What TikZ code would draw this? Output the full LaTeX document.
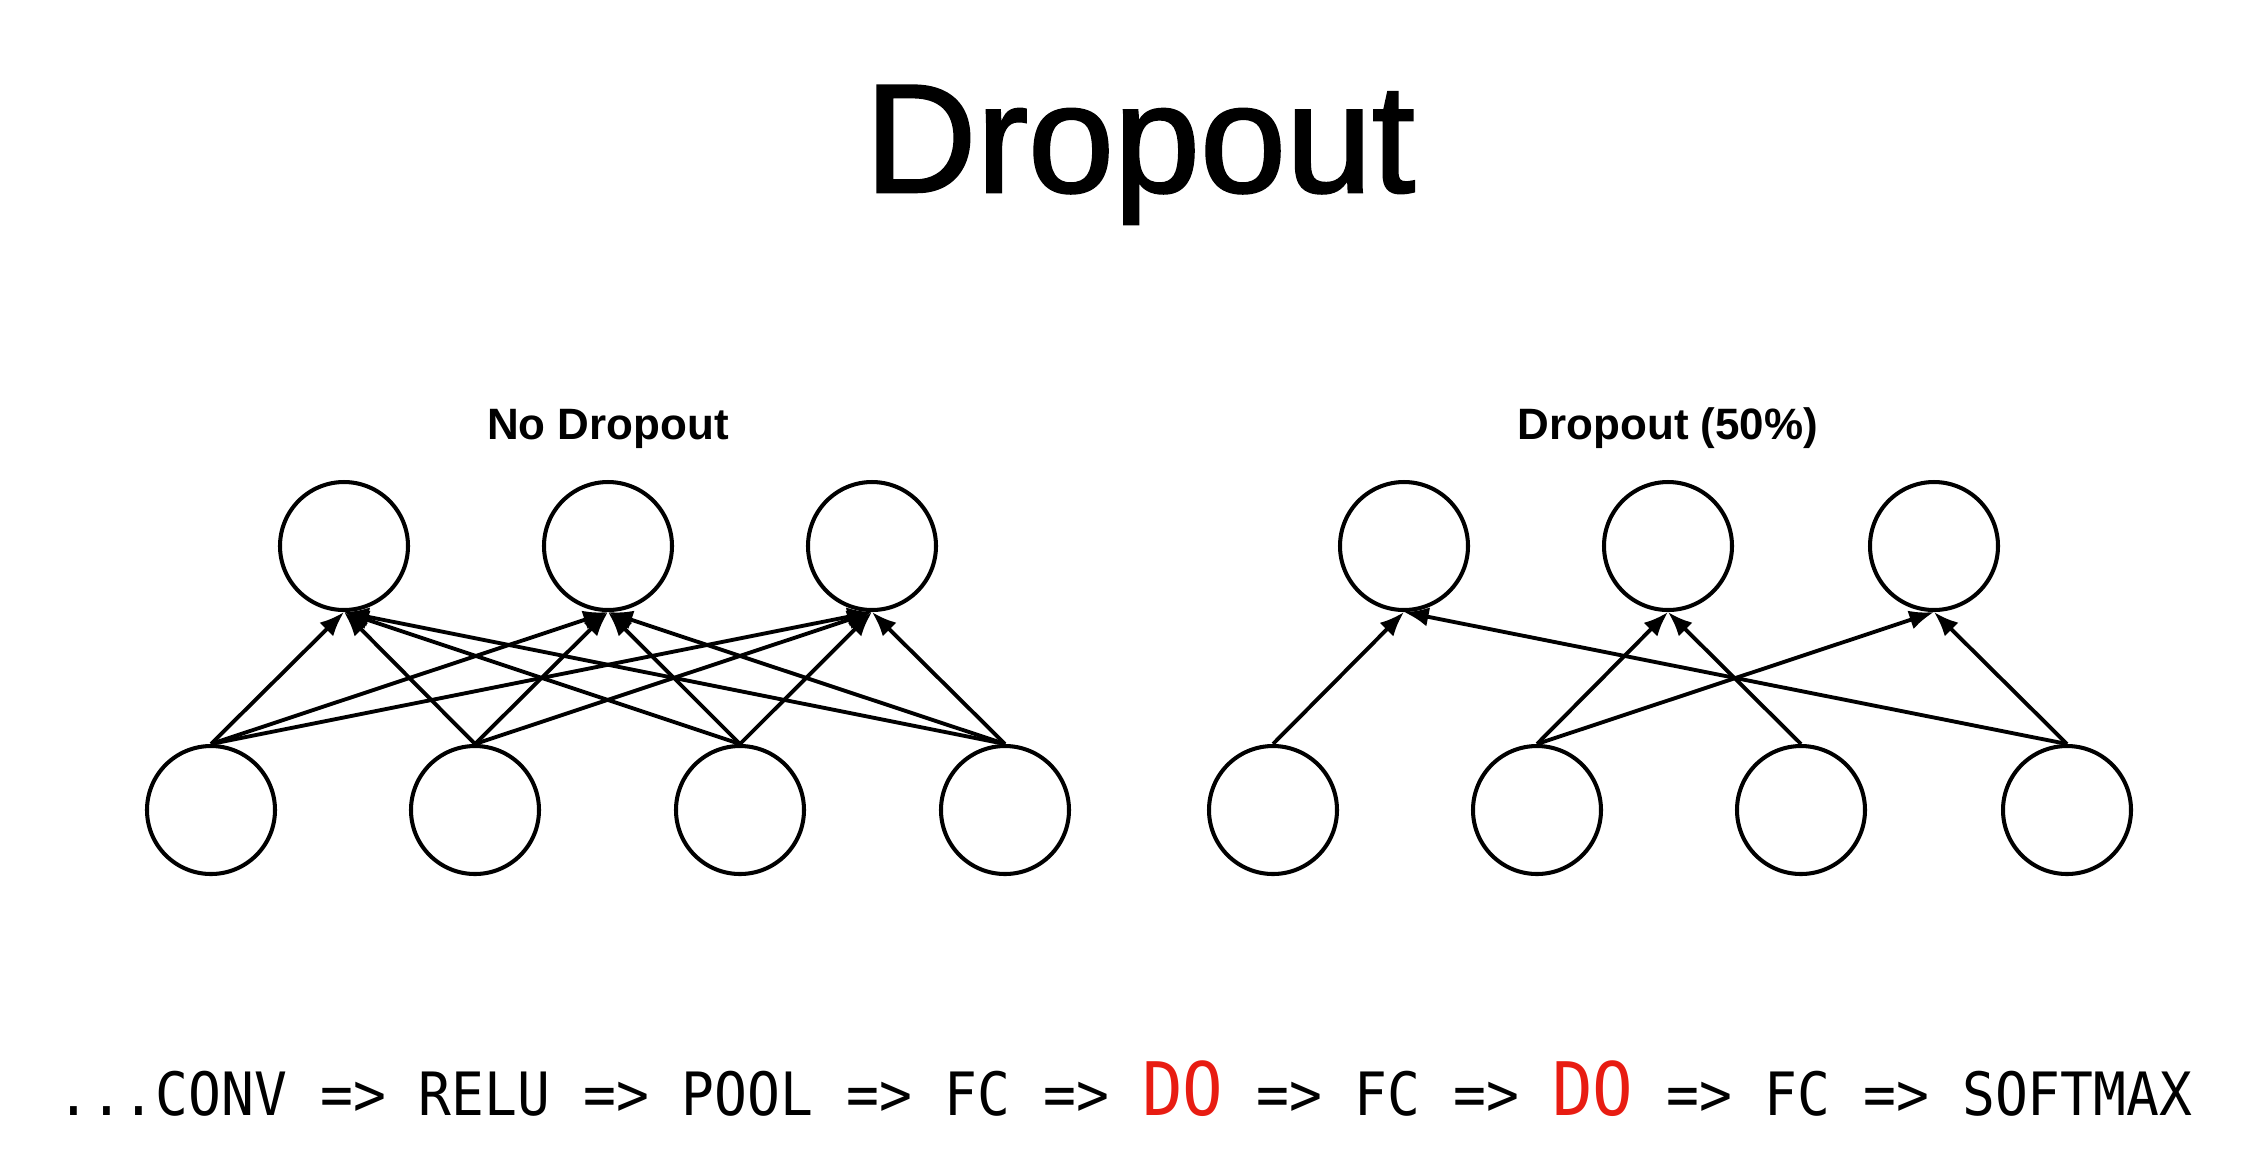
\documentclass[tikz,border=0pt]{standalone}
\usepackage{fontspec}
\setmainfont{Liberation Sans}
\newfontfamily\titlefont[FakeBold=1.6]{Liberation Sans}
\newfontfamily\codefont[FakeStretch=0.914]{DejaVu Sans Mono}
\usetikzlibrary{arrows.meta,positioning}
\definecolor{dored}{RGB}{232,28,18}

\begin{document}
\begin{tikzpicture}[
  neuron/.style={circle,draw,line width=1.15pt,minimum size=1.28cm,inner sep=0pt},
  link/.style={-{Latex[length=7pt,width=5.5pt]},line width=1.1pt},
  heading/.style={font=\fontsize{12.5}{15}\selectfont\bfseries,anchor=base}]
  \useasboundingbox (0,0) rectangle (22.65,-11.68);
  \node[anchor=base,inner sep=0pt] (title) at (11.40,-1.92) {\titlefont\fontsize{44}{50}\selectfont Dropout};
  \foreach \x [count=\i] in {3.44,6.08,8.72} \node[neuron] (lt\i) at (\x,-5.46) {};
  \foreach \x [count=\i] in {2.11,4.75,7.40,10.05} \node[neuron] (lb\i) at (\x,-8.10) {};
  \foreach \x [count=\i] in {14.04,16.68,19.34} \node[neuron] (rt\i) at (\x,-5.46) {};
  \foreach \x [count=\i] in {12.73,15.37,18.01,20.67} \node[neuron] (rb\i) at (\x,-8.10) {};
  \foreach \i in {1,...,4} \foreach \j in {1,2,3} \draw[link] (lb\i.north) -- (lt\j.south);
  \foreach \i/\j in {1/1,2/2,2/3,3/2,4/1,4/3} \draw[link] (rb\i.north) -- (rt\j.south);
  \node[heading,above=0.19cm of lt2.north] (nodrop) {No Dropout};
  \node[heading,above=0.19cm of rt2.north] (drop) {Dropout (50\%)};
  \node[anchor=base west,inner sep=0pt] (layers) at (0.565,-11.15) {\codefont\fontsize{17}{20}\selectfont
    ...CONV => RELU => POOL => FC => {\color{dored}\fontsize{21}{24}\selectfont DO} => FC => {\color{dored}\fontsize{21}{24}\selectfont DO} => FC => SOFTMAX};
\end{tikzpicture}
\end{document}
